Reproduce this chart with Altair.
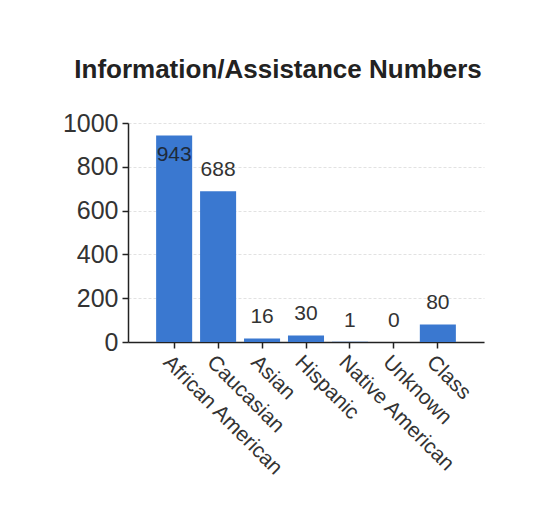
import altair as alt
import pandas as pd

categories = ["African American", "Caucasian", "Asian", "Hispanic", "Native American", "Unknown", "Class"]
values = [943, 688, 16, 30, 1, 0, 80]
y_ticks = [0, 200, 400, 600, 800, 1000]

df = pd.DataFrame({"category": categories, "value": values})

FONT = "Liberation Sans"
BAR = "#3a78d0"

x = alt.X(
    "category:N",
    sort=categories,
    title=None,
    scale=alt.Scale(paddingInner=0.18, paddingOuter=0.64),
    axis=alt.Axis(
        labelAngle=45,
        labelAlign="left",
        labelBaseline="top",
        labelFont=FONT,
        labelFontSize=21,
        labelColor="#333333",
        labelPadding=3,
        labelLimit=300,
        tickSize=6,
        tickColor="#222222",
        domainColor="#222222",
        domainWidth=1.5,
        tickWidth=1.5,
        grid=False,
    ),
)
y = alt.Y(
    "value:Q",
    title=None,
    scale=alt.Scale(domain=[0, 1000], nice=False),
    axis=alt.Axis(
        values=y_ticks,
        format="d",
        labelFont=FONT,
        labelFontSize=25,
        labelColor="#333333",
        labelPadding=4,
        tickSize=6,
        tickColor="#222222",
        domainColor="#222222",
        domainWidth=1.5,
        tickWidth=1.5,
        grid=True,
        gridColor="#e2e2e2",
        gridDash=[3, 2],
    ),
)

bars = alt.Chart(df).mark_bar(color=BAR).encode(x=x, y=y)

above = alt.Chart(df).transform_filter("datum.value < 900").mark_text(
    font=FONT, fontSize=21, color="#333333", baseline="alphabetic", dy=-15
).encode(x=alt.X("category:N", sort=categories), y="value:Q", text="value:Q")

inside = alt.Chart(df).transform_filter("datum.value >= 900").mark_text(
    font=FONT, fontSize=21, color="#1e2a3a", baseline="alphabetic", dy=26
).encode(x=alt.X("category:N", sort=categories), y="value:Q", text="value:Q")

chart = (
    alt.layer(bars, above, inside)
    .properties(
        width=356,
        height=219,
        title=alt.TitleParams(
            "Information/Assistance Numbers",
            font=FONT,
            fontSize=26,
            fontWeight="bold",
            color="#222222",
            anchor="middle",
            dx=-28,
            offset=28,
        ),
        padding={"left": 120, "top": 115, "right": 50, "bottom": 168},
        autosize=alt.AutoSizeParams(type="none"),
        background="white",
    )
    .configure_view(stroke=None)
)

chart.save("out.html", embed_options={"renderer": "svg", "actions": False})
